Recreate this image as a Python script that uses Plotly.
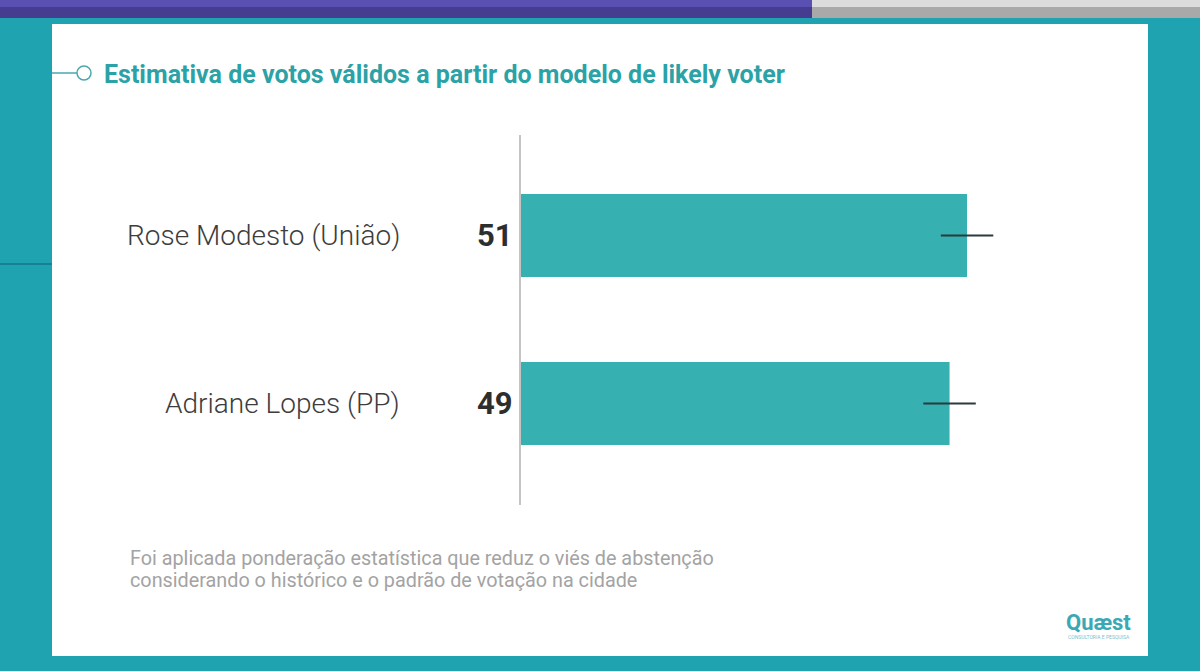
import plotly.graph_objects as go

# data
candidatos = ["Adriane Lopes (PP)", "Rose Modesto (União)"]
votos = [49, 51]
margem = [3, 3]
posicao = [0, 1]

titulo = "Estimativa de votos válidos a partir do modelo de likely voter"
nota = ["Foi aplicada ponderação estatística que reduz o viés de abstenção",
        "considerando o histórico e o padrão de votação na cidade"]

W, H = 1200, 671
teal_bg = "#20a3b1"
bar_color = "#36b0b0"
title_color = "#2ba2a6"


def px(x):
    return x / W


def py(y):
    return 1 - y / H


fig = go.Figure()
fig.add_trace(go.Bar(
    x=votos, y=posicao, orientation="h", width=0.494,
    marker=dict(color=bar_color, line=dict(width=0)),
    error_x=dict(type="data", array=margem, color="#2b3a3c", thickness=2, width=0),
    hoverinfo="skip",
))

annotations = []
for nome, v, p in zip(candidatos, votos, posicao):
    annotations.append(dict(x=0, y=p, xref="x", yref="y", text=nome, showarrow=False,
                            xanchor="right", xshift=-119,
                            font=dict(family="Roboto", size=28, color="#3d3d3d", weight=300)))
    annotations.append(dict(x=0, y=p, xref="x", yref="y", text=str(v), showarrow=False,
                            xanchor="right", xshift=-6,
                            font=dict(family="Roboto", size=31, color="#2e2e2e", weight="bold")))

annotations.append(dict(x=px(102), y=py(74), xref="paper", yref="paper", text=titulo,
                        showarrow=False, xanchor="left", yanchor="middle",
                        font=dict(family="Roboto", size=25, color=title_color, weight="bold")))
for i, linha in enumerate(nota):
    annotations.append(dict(x=px(128), y=py(558 + 22 * i), xref="paper", yref="paper", text=linha,
                            showarrow=False, xanchor="left", yanchor="middle",
                            font=dict(family="Roboto", size=19.8, color="#a3a3a3")))
annotations.append(dict(x=px(1133), y=py(622), xref="paper", yref="paper", text="<b>Quæst</b>",
                        showarrow=False, xanchor="right", yanchor="middle",
                        font=dict(family="Roboto", size=22, color="#3aa9b3")))
annotations.append(dict(x=px(1132), y=py(637), xref="paper", yref="paper",
                        text="CONSULTORIA E PESQUISA",
                        showarrow=False, xanchor="right", yanchor="middle",
                        font=dict(family="Roboto", size=5, color="#7cc3cb")))

pp = dict(xref="paper", yref="paper")
shapes = [
    # top bars
    dict(type="rect", x0=0, x1=px(812), y0=py(0), y1=py(7), fillcolor="#5a4fb2", line_width=0, **pp),
    dict(type="rect", x0=0, x1=px(812), y0=py(7), y1=py(18), fillcolor="#463d90", line_width=0, **pp),
    dict(type="rect", x0=px(812), x1=1, y0=py(0), y1=py(7), fillcolor="#dcdcdc", line_width=0, **pp),
    dict(type="rect", x0=px(812), x1=1, y0=py(7), y1=py(18), fillcolor="#a9a9a9", line_width=0, **pp),
    # white panel
    dict(type="rect", x0=px(52), x1=px(1148), y0=py(24), y1=py(656), fillcolor="white",
         line_width=0, layer="below", **pp),
    # side line
    dict(type="line", x0=0, x1=px(52), y0=py(264), y1=py(264), line=dict(color="#1a7f95", width=2), **pp),
    # title marker
    dict(type="line", x0=px(52), x1=px(77), y0=py(73), y1=py(73), line=dict(color="#4aa8ae", width=1.5), **pp),
    dict(type="circle", x0=px(77), x1=px(91), y0=py(66), y1=py(80), fillcolor="white",
         line=dict(color="#4aa8ae", width=1.5), **pp),
]

fig.update_layout(
    width=W, height=H,
    margin=dict(l=0, r=0, t=0, b=0),
    paper_bgcolor=teal_bg, plot_bgcolor="rgba(0,0,0,0)",
    showlegend=False,
    xaxis=dict(domain=[px(521), px(1100)], range=[0, 66.2], visible=False, fixedrange=True),
    yaxis=dict(domain=[py(505), py(135)], range=[-0.604, 1.598], showgrid=False,
               zeroline=False, showticklabels=False, ticks="",
               showline=True, linecolor="#c4c4c4", linewidth=2, fixedrange=True),
    annotations=annotations,
    shapes=shapes,
)

fig.write_html("out.html", config={"displayModeBar": False},
               post_script="document.body.style.margin='0';")
